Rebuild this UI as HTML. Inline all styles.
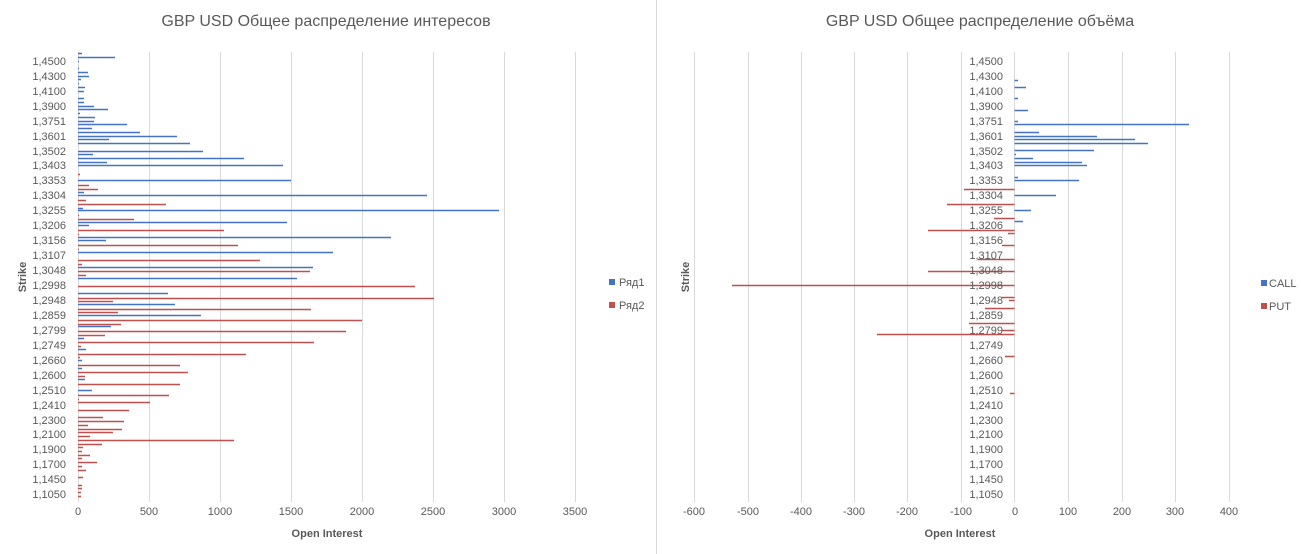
<!DOCTYPE html>
<html><head><meta charset="utf-8"><style>
html,body{margin:0;padding:0;background:#fff;}
svg{display:block;font-family:"Liberation Sans",sans-serif;}
.t{font-size:16px;fill:#595959;}
.l{font-size:11px;fill:#595959;}
.a{font-size:11px;fill:#595959;font-weight:bold;}
</style></head><body>
<svg id="s" width="1301" height="554" viewBox="0 0 1301 554">
<rect width="1301" height="554" fill="#fff"/>
<line x1="656.5" y1="0" x2="656.5" y2="554" stroke="#d9d9d9"/>
<g id="grid" stroke="#d9d9d9" stroke-width="1"></g>
<g id="bars"></g>
<text class="t" x="326" y="26" text-anchor="middle">GBP USD Общее распределение интересов</text>
<text class="t" x="980" y="26" text-anchor="middle">GBP USD Общее распределение объёма</text>
<g class="l" text-anchor="end">
<text x="66" y="65">1,4500</text><text x="66" y="80">1,4300</text><text x="66" y="95">1,4100</text><text x="66" y="110">1,3900</text><text x="66" y="125">1,3751</text><text x="66" y="140">1,3601</text><text x="66" y="155">1,3502</text><text x="66" y="169">1,3403</text><text x="66" y="184">1,3353</text><text x="66" y="199">1,3304</text><text x="66" y="214">1,3255</text><text x="66" y="229">1,3206</text><text x="66" y="244">1,3156</text><text x="66" y="259">1,3107</text><text x="66" y="274">1,3048</text><text x="66" y="289">1,2998</text><text x="66" y="304">1,2948</text><text x="66" y="319">1,2859</text><text x="66" y="334">1,2799</text><text x="66" y="349">1,2749</text><text x="66" y="364">1,2660</text><text x="66" y="379">1,2600</text><text x="66" y="394">1,2510</text><text x="66" y="409">1,2410</text><text x="66" y="424">1,2300</text><text x="66" y="438">1,2100</text><text x="66" y="453">1,1900</text><text x="66" y="468">1,1700</text><text x="66" y="483">1,1450</text><text x="66" y="498">1,1050</text>
</g>
<g class="l" text-anchor="end">
<text x="1003" y="65">1,4500</text><text x="1003" y="80">1,4300</text><text x="1003" y="95">1,4100</text><text x="1003" y="110">1,3900</text><text x="1003" y="125">1,3751</text><text x="1003" y="140">1,3601</text><text x="1003" y="155">1,3502</text><text x="1003" y="169">1,3403</text><text x="1003" y="184">1,3353</text><text x="1003" y="199">1,3304</text><text x="1003" y="214">1,3255</text><text x="1003" y="229">1,3206</text><text x="1003" y="244">1,3156</text><text x="1003" y="259">1,3107</text><text x="1003" y="274">1,3048</text><text x="1003" y="289">1,2998</text><text x="1003" y="304">1,2948</text><text x="1003" y="319">1,2859</text><text x="1003" y="334">1,2799</text><text x="1003" y="349">1,2749</text><text x="1003" y="364">1,2660</text><text x="1003" y="379">1,2600</text><text x="1003" y="394">1,2510</text><text x="1003" y="409">1,2410</text><text x="1003" y="424">1,2300</text><text x="1003" y="438">1,2100</text><text x="1003" y="453">1,1900</text><text x="1003" y="468">1,1700</text><text x="1003" y="483">1,1450</text><text x="1003" y="498">1,1050</text>
</g>
<g class="l" text-anchor="middle">
<text x="78" y="515">0</text><text x="149" y="515">500</text><text x="220" y="515">1000</text><text x="291" y="515">1500</text><text x="362" y="515">2000</text><text x="433" y="515">2500</text><text x="504" y="515">3000</text><text x="575" y="515">3500</text>
<text x="694" y="515">-600</text><text x="748" y="515">-500</text><text x="801" y="515">-400</text><text x="854" y="515">-300</text><text x="907" y="515">-200</text><text x="961" y="515">-100</text><text x="1015" y="515">0</text><text x="1068" y="515">100</text><text x="1122" y="515">200</text><text x="1175" y="515">300</text><text x="1229" y="515">400</text>
</g>
<text class="a" x="327" y="537" text-anchor="middle">Open Interest</text>
<text class="a" x="960" y="537" text-anchor="middle">Open Interest</text>
<text class="a" transform="translate(26,277) rotate(-90)" text-anchor="middle">Strike</text>
<text class="a" transform="translate(689,277) rotate(-90)" text-anchor="middle">Strike</text>
<rect x="609" y="279" width="6" height="6" fill="#4472c4"/><text class="l" x="619" y="286">Ряд1</text>
<rect x="609" y="302" width="6" height="6" fill="#c0504d"/><text class="l" x="619" y="309">Ряд2</text>
<rect x="1261" y="280" width="6" height="6" fill="#4472c4"/><text class="l" x="1269" y="287">CALL</text>
<rect x="1261" y="303" width="6" height="6" fill="#c0504d"/><text class="l" x="1269" y="310">PUT</text>
</svg>
<script>
var ns="http://www.w3.org/2000/svg",g=document.getElementById("grid"),b=document.getElementById("bars");
function ln(p,x1,y1,x2,y2,c,w){var e=document.createElementNS(ns,"line");e.setAttribute("x1",x1);e.setAttribute("y1",y1);e.setAttribute("x2",x2);e.setAttribute("y2",y2);e.setAttribute("stroke",c);e.setAttribute("stroke-width",w);p.appendChild(e);}
[78,149,220,291,362,433,504,575].forEach(function(x){ln(g,x+.5,52,x+.5,502,"#d9d9d9",1);});
[694,748,801,854,907,961,1014,1068,1122,1175,1229].forEach(function(x){ln(g,x+.5,52,x+.5,502,"#d9d9d9",1);});
var B="#4472c4",R="#c0504d";
var L=[[53,82,B],[57,115,B],[61,79,B],[68,79,B],[72,88,B],[76,89,B],[79,81,B],[83,79,B],[87,85,B],[91,84,B],[98,84,B],[102,84,B],[106,94,B],[109,108,B],[113,80,B],[117,95,B],[121,94,B],[124,127,B],[128,92,B],[132,140,B],[136,177,B],[139,109,B],[143,190,B],[151,203,B],[154,93,B],[158,244,B],[162,107,B],[165,283,B],[174,80,R],[180,291,B],[185,89,R],[189,98,R],[192,84,B],[195,427,B],[200,86,R],[204,166,R],[208,83,B],[210,499,B],[215,79,R],[219,134,R],[222,287,B],[225,89,B],[230,224,R],[234,79,R],[237,391,B],[240,106,B],[245,238,R],[249,79,R],[252,333,B],[260,260,R],[264,82,R],[267,313,B],[271,310,R],[275,86,R],[278,297,B],[286,415,R],[293,168,B],[298,434,R],[301,113,R],[304,175,B],[309,311,R],[312,118,R],[315,201,B],[320,362,R],[324,121,R],[326,111,B],[331,346,R],[335,105,R],[338,84,B],[342,314,R],[346,81,R],[349,86,B],[354,246,R],[357,80,R],[360,82,B],[365,180,R],[368,82,B],[372,188,R],[376,85,R],[379,85,B],[384,180,R],[390,92,B],[395,169,R],[399,79,R],[402,150,R],[410,129,R],[417,103,R],[421,124,R],[425,88,R],[429,122,R],[432,113,R],[436,90,R],[440,234,R],[444,102,R],[447,83,R],[451,82,R],[455,90,R],[458,82,R],[462,97,R],[466,82,R],[470,86,R],[477,83,R],[485,82,R],[488,82,R],[492,81,R],[496,81,R]];
L.forEach(function(a){ln(b,78,a[0]+.5,a[1],a[0]+.5,a[2],1.5);});
var Rr=[[80,1018,B],[87,1026,B],[98,1018,B],[110,1028,B],[121,1018,B],[124,1189,B],[132,1039,B],[136,1097,B],[139,1135,B],[143,1148,B],[150,1094,B],[154,1016,B],[158,1033,B],[162,1082,B],[165,1087,B],[177,1018,B],[180,1079,B],[189,964,R],[195,1056,B],[204,947,R],[210,1031,B],[218,994,R],[221,1023,B],[230,928,R],[233,1008,R],[245,1002,R],[259,978,R],[271,928,R],[285,732,R],[297,1002,R],[300,1009,R],[308,985,R],[323,969,R],[330,1002,R],[334,877,R],[356,1005,R],[393,1010,R]];
Rr.forEach(function(a){ln(b,1014.5,a[0]+.5,a[1],a[0]+.5,a[2],1.5);});
</script>
</body></html>
